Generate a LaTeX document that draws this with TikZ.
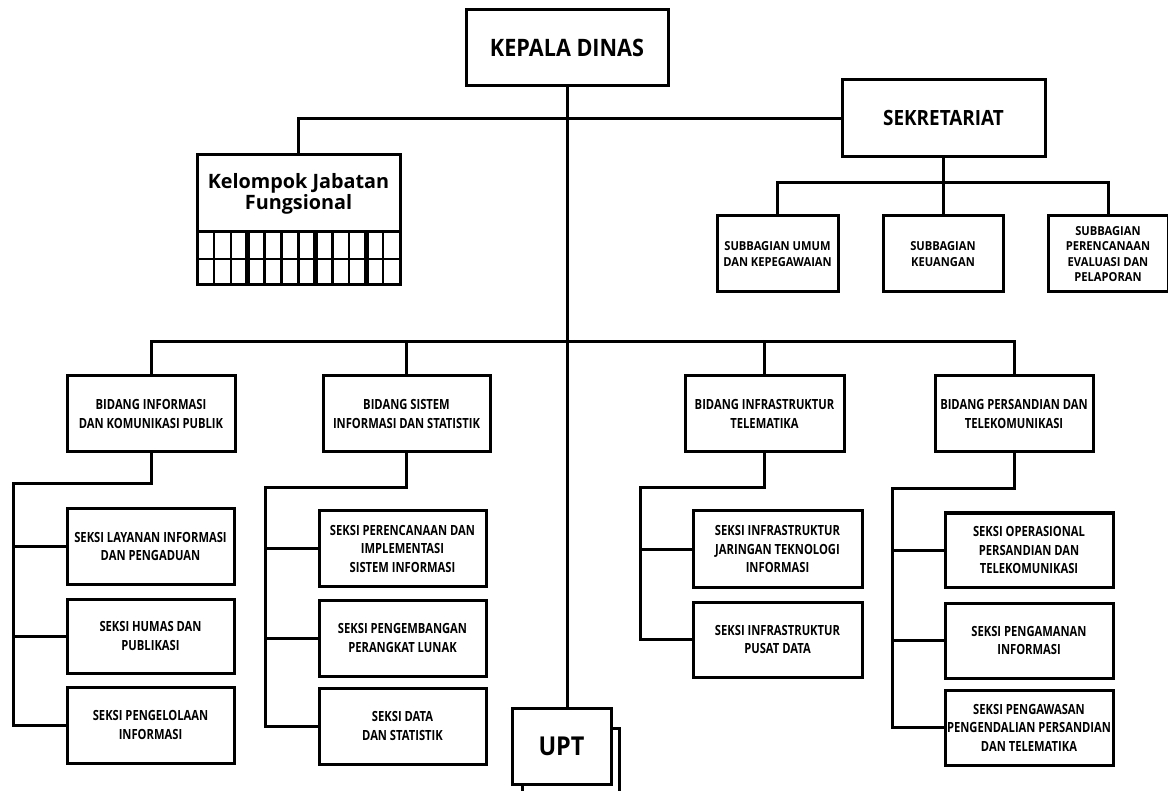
\documentclass[tikz,border=0pt]{standalone}
\usepackage{fontspec}
\setmainfont{Open Sans}
\newfontfamily\narrowfont{Open Sans}[FakeStretch=0.8]
\newfontfamily\midfont{Open Sans}[FakeStretch=0.9]
\usetikzlibrary{calc}

\tikzset{
	box/.style={draw, line width=3pt, fill=white, align=center, inner sep=1pt},
	conn/.style={line width=3pt},
	bidang/.style={box, minimum height=76, font=\narrowfont\bfseries\fontsize{14}{18.5}\selectfont},
	seksi/.style={box, minimum width=168, minimum height=76, font=\narrowfont\bfseries\fontsize{14}{18.5}\selectfont},
	subbag/.style={box, minimum width=121, minimum height=76, font=\midfont\bfseries\fontsize{12.4}{15.5}\selectfont},
}

\begin{document}
\begin{tikzpicture}[x=1pt,y=-1pt]
				\path[use as bounding box] (0,0) rectangle (1168,791);
				\clip (0,0) rectangle (1168,791);
				
				% top level
				\node[box, minimum width=202, minimum height=76, font=\midfont\bfseries\fontsize{24}{28}\selectfont] (KepalaDinas) at (567,48) {KEPALA DINAS};
				\node[box, minimum width=203, minimum height=77, font=\midfont\bfseries\fontsize{21}{24}\selectfont] (Sekretariat) at (943.5,118.5) {SEKRETARIAT};
				\node[box, minimum width=203, minimum height=77, font=\bfseries\fontsize{19.8}{21}\selectfont] (Fungsional) at (298.5,193.5) {Kelompok Jabatan\\Fungsional};
				
				% grid under kelompok jabatan fungsional
				\draw[line width=3pt] (197,232) rectangle (400,285);
				\draw[line width=2.2pt] (197,259) -- (400,259);
				\foreach \i/\w in {1/2.4,2/2.4,3/5,4/2.4,5/2.4,6/3.4,7/5,8/2.4,9/2.4,10/5,11/2.4}
				\draw[line width=\w pt] ({197+\i*16.92},232) -- ({197+\i*16.92},285);
				
				% subbagian
				\node[subbag] (SubUmum) at (777.5,254) {SUBBAGIAN UMUM\\DAN KEPEGAWAIAN};
				\node[subbag, minimum width=120] (SubKeu) at (943,254) {SUBBAGIAN\\KEUANGAN};
				\node[subbag, minimum width=120] (SubRenc) at (1108,254) {SUBBAGIAN\\PERENCANAAN\\EVALUASI DAN\\PELAPORAN};
				
				% bidang
				\node[bidang, minimum width=168] (Bidang1) at (151,414) {BIDANG INFORMASI\\DAN KOMUNIKASI PUBLIK};
				\node[bidang, minimum width=167] (Bidang2) at (406.5,414) {BIDANG SISTEM\\INFORMASI DAN STATISTIK};
				\node[bidang, minimum width=159] (Bidang3) at (764.5,414) {BIDANG INFRASTRUKTUR\\TELEMATIKA};
				\node[bidang, minimum width=158] (Bidang4) at (1014,414) {BIDANG PERSANDIAN DAN\\TELEKOMUNIKASI};
				
				% seksi
				\node[seksi, minimum width=167, minimum height=75] (Seksi11) at (150.5,546.5) {SEKSI LAYANAN INFORMASI\\DAN PENGADUAN};
				\node[seksi, minimum width=167, minimum height=74] (Seksi12) at (150.5,636) {SEKSI HUMAS DAN\\PUBLIKASI};
				\node[seksi, minimum width=167] (Seksi13) at (150.5,725) {SEKSI PENGELOLAAN\\INFORMASI};
				
				\node[seksi, minimum width=167, minimum height=75] (Seksi21) at (402.5,548.5) {SEKSI PERENCANAAN DAN\\IMPLEMENTASI\\SISTEM INFORMASI};
				\node[seksi, minimum width=167] (Seksi22) at (402.5,638) {SEKSI PENGEMBANGAN\\PERANGKAT LUNAK};
				\node[seksi, minimum width=167] (Seksi23) at (402.5,726) {SEKSI DATA\\DAN STATISTIK};
				
				\node[seksi, minimum width=169] (Seksi31) at (777.5,549) {SEKSI INFRASTRUKTUR\\JARINGAN TEKNOLOGI\\INFORMASI};
				\node[seksi, minimum width=169, minimum height=75] (Seksi32) at (777.5,639.5) {SEKSI INFRASTRUKTUR\\PUSAT DATA};
				
				\node[seksi, minimum height=74] (Seksi41) at (1029,550) {SEKSI OPERASIONAL\\PERSANDIAN DAN\\TELEKOMUNIKASI};
				\node[seksi, minimum height=75] (Seksi42) at (1029,640.5) {SEKSI PENGAMANAN\\INFORMASI};
				\node[seksi, minimum height=75] (Seksi43) at (1029,727.5) {SEKSI PENGAWASAN\\PENGENDALIAN PERSANDIAN\\DAN TELEMATIKA};
				
				% UPT with the box behind it
				\draw[line width=3pt, fill=white] (522,728) rectangle (619,812);
				\node[box, minimum width=99, minimum height=76, font=\midfont\bfseries\fontsize{26}{30}\selectfont] (Upt) at (561.5,746) {UPT};
				
				% connectors
				\coordinate (SubBar) at (943,183);
				\coordinate (BidangBar) at (567,342);
				\coordinate (Rail1) at (13,484);
				\coordinate (Rail2) at (265,488);
				\coordinate (Rail3) at (640,488);
				\coordinate (Rail4) at (892,489);
				
				\draw[conn] (KepalaDinas.south) -- (KepalaDinas.south |- Upt.north);
				\draw[conn] (Fungsional.north) |- (Sekretariat.west);
				
				\draw[conn] (Sekretariat.south) -- (Sekretariat.south |- SubBar);
				\draw[conn] (SubUmum.north) |- (SubRenc.north |- SubBar) -- (SubRenc.north);
				\draw[conn] (SubKeu.north) -- (SubKeu.north |- SubBar);
				
				\draw[conn] (Bidang1.north) |- (Bidang4.north |- BidangBar) -- (Bidang4.north);
				\draw[conn] (Bidang2.north) -- (Bidang2.north |- BidangBar);
				\draw[conn] (Bidang3.north) -- (Bidang3.north |- BidangBar);
				
				\draw[conn] (Bidang1.south) |- (Rail1) |- (Seksi13.west);
				\draw[conn] (Rail1 |- Seksi11.west) -- (Seksi11.west);
				\draw[conn] (Rail1 |- Seksi12.west) -- (Seksi12.west);
				
				\draw[conn] (Bidang2.south) |- (Rail2) |- (Seksi23.west);
				\draw[conn] (Rail2 |- Seksi21.west) -- (Seksi21.west);
				\draw[conn] (Rail2 |- Seksi22.west) -- (Seksi22.west);
				
				\draw[conn] (Bidang3.south) |- (Rail3) |- (Seksi32.west);
				\draw[conn] (Rail3 |- Seksi31.west) -- (Seksi31.west);
				
				\draw[conn] (Bidang4.south) |- (Rail4) |- (Seksi43.west);
				\draw[conn] (Rail4 |- Seksi41.west) -- (Seksi41.west);
				\draw[conn] (Rail4 |- Seksi42.west) -- (Seksi42.west);
\end{tikzpicture}
\end{document}
